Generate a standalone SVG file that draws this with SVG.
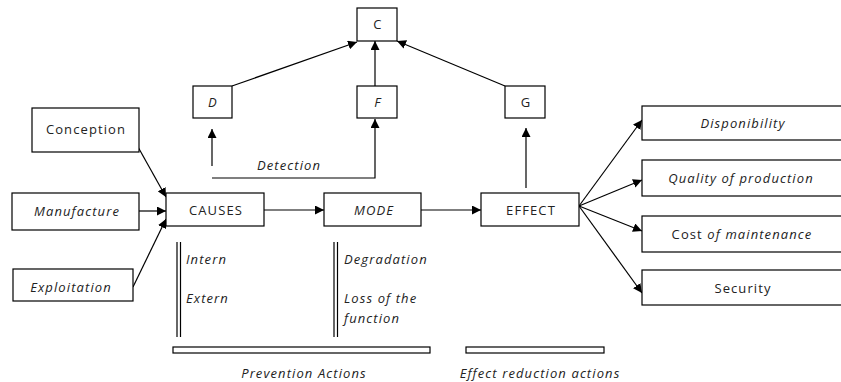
<svg xmlns="http://www.w3.org/2000/svg" width="841" height="382" viewBox="0 0 841 382">
<style>
.b{fill:#fff;stroke:#000;stroke-width:1.2}
.l{fill:none;stroke:#000;stroke-width:1.2}
text{font-family:"Open Sans","Liberation Sans",sans-serif;font-size:13px;letter-spacing:1.1px;fill:#222;text-anchor:middle}
.i{font-style:italic}
.s{text-anchor:start}
</style>
<defs>
<marker id="a" viewBox="0 0 10 10" refX="10" refY="5" markerWidth="9" markerHeight="9" markerUnits="userSpaceOnUse" orient="auto">
<path d="M0,0L10,5L0,10z" fill="#000"/>
</marker>
</defs>
<g id="connectors">
<line class="l" x1="133" y1="138" x2="166" y2="197" marker-end="url(#a)"/>
<line class="l" x1="139" y1="211" x2="166" y2="211" marker-end="url(#a)"/>
<line class="l" x1="133" y1="287" x2="166" y2="219" marker-end="url(#a)"/>
<line class="l" x1="264" y1="210" x2="324" y2="210" marker-end="url(#a)"/>
<line class="l" x1="421" y1="210" x2="481" y2="210" marker-end="url(#a)"/>
<line class="l" x1="579" y1="206" x2="642" y2="120" marker-end="url(#a)"/>
<line class="l" x1="579" y1="206" x2="642" y2="180" marker-end="url(#a)"/>
<line class="l" x1="579" y1="206" x2="642" y2="231" marker-end="url(#a)"/>
<line class="l" x1="579" y1="206" x2="642" y2="293" marker-end="url(#a)"/>
<line class="l" x1="526" y1="188" x2="526" y2="128" marker-end="url(#a)"/>
<line class="l" x1="212" y1="166" x2="212" y2="129" marker-end="url(#a)"/>
<polyline class="l" points="212,178 375,178 375,119" marker-end="url(#a)"/>
<line class="l" x1="232" y1="86" x2="357" y2="42" marker-end="url(#a)"/>
<line class="l" x1="375" y1="86" x2="375" y2="41" marker-end="url(#a)"/>
<line class="l" x1="505" y1="86" x2="397" y2="41" marker-end="url(#a)"/>
<line class="l" x1="177" y1="242" x2="177" y2="337"/>
<line class="l" x1="180.5" y1="242" x2="180.5" y2="337"/>
<line class="l" x1="334" y1="242" x2="334" y2="337"/>
<line class="l" x1="337.5" y1="242" x2="337.5" y2="337"/>
<text class="i" x="289" y="170">Detection</text>
</g>
<g id="conception"><rect class="b" x="32" y="108" width="107" height="44"/><text x="86" y="134">Conception</text></g>
<g id="manufacture"><rect class="b" x="12" y="193" width="127" height="37"/><text class="i" x="77" y="216">Manufacture</text></g>
<g id="exploitation"><rect class="b" x="13" y="269" width="120" height="32"/><text class="i" x="71" y="292">Exploitation</text></g>
<g id="causes"><rect class="b" x="166" y="193" width="98" height="33"/><text x="216" y="215">CAUSES</text></g>
<g id="mode"><rect class="b" x="324" y="193" width="97" height="33"/><text class="i" x="374" y="215">MODE</text></g>
<g id="effect"><rect class="b" x="481" y="193" width="98" height="33"/><text x="531" y="215">EFFECT</text></g>
<g id="c"><rect class="b" x="357" y="8" width="40" height="33"/><text x="378" y="29">C</text></g>
<g id="d"><rect class="b" x="193" y="86" width="39" height="32"/><text class="i" x="213" y="107">D</text></g>
<g id="f"><rect class="b" x="357" y="86" width="40" height="32"/><text class="i" x="378" y="107">F</text></g>
<g id="g"><rect class="b" x="505" y="86" width="40" height="32"/><text x="526" y="107">G</text></g>
<g id="disponibility"><rect class="b" x="642" y="106" width="205" height="34"/><text class="i" x="743" y="128">Disponibility</text></g>
<g id="quality"><rect class="b" x="642" y="160" width="205" height="36"/><text class="i" x="741" y="183">Quality of production</text></g>
<g id="cost"><rect class="b" x="642" y="216" width="205" height="36"/><text x="742" y="239">Cost <tspan class="i">of maintenance</tspan></text></g>
<g id="security"><rect class="b" x="642" y="270" width="205" height="35"/><text x="743" y="293">Security</text></g>
<g id="causes-list"><text class="i s" x="186" y="264">Intern</text><text class="i s" x="186" y="303">Extern</text></g>
<g id="mode-list"><text class="i s" x="344" y="264">Degradation</text><text class="i s" x="344" y="303">Loss of the</text><text class="i s" x="344" y="323">function</text></g>
<g id="prevention"><rect class="b" x="173" y="347" width="257" height="6"/><text class="i" x="304" y="378">Prevention Actions</text></g>
<g id="effect-reduction"><rect class="b" x="466" y="347" width="138" height="6"/><text class="i" x="540" y="378">Effect reduction actions</text></g>
</svg>
